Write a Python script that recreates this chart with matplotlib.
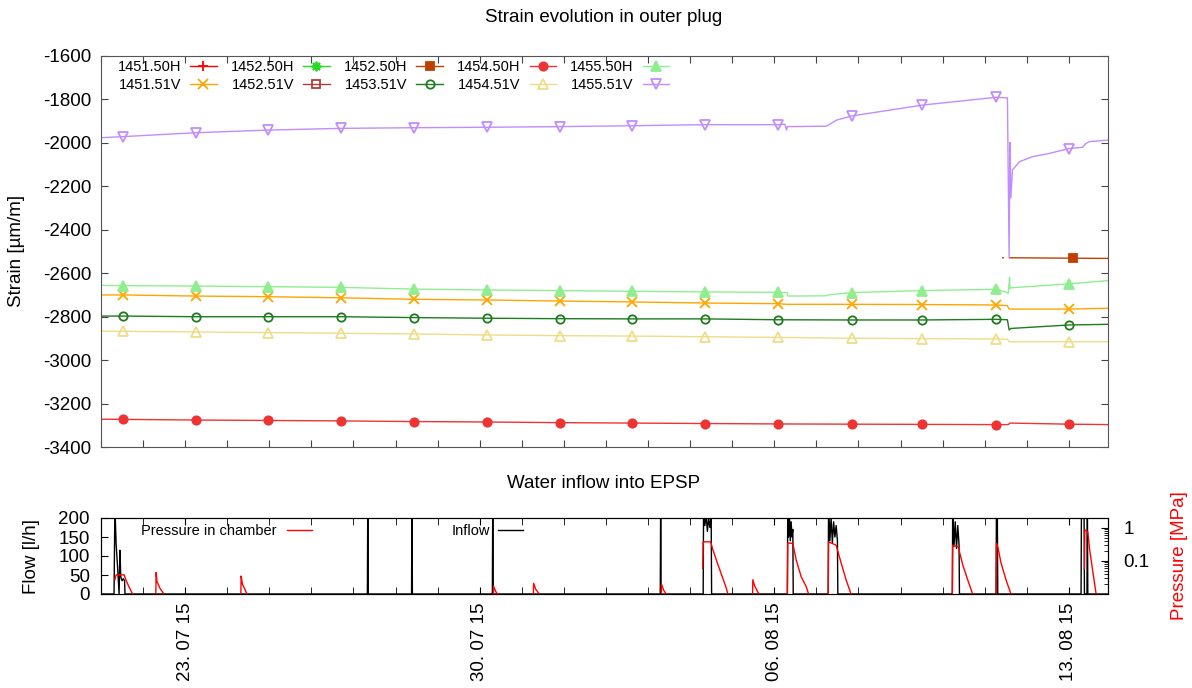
import datetime
import numpy as np
import matplotlib
matplotlib.use('Agg')
import matplotlib.pyplot as plt
import matplotlib.dates as mdates
from matplotlib.ticker import LogLocator, NullFormatter, MultipleLocator, FixedLocator

plt.rcParams['font.family'] = ['Liberation Sans', 'DejaVu Sans']
plt.rcParams['axes.unicode_minus'] = False

# time axis: days after 21.07.2015 00:00
start = datetime.datetime(2015, 7, 21)
x_end = 23.93

# days where gnuplot put the point symbols
mark_days = [0.52, 2.26, 3.97, 5.70, 7.43, 9.17, 10.90, 12.61, 14.35, 16.08, 17.84, 19.52, 21.28, 23.0]

# strain gauges [um/m]
t_1455_51V = [0.0, 0.52, 2.26, 3.97, 5.70, 7.43, 9.17, 10.90, 12.61, 14.35, 16.08, 16.25, 16.29, 16.31,
              17.24, 17.48, 17.84, 19.52, 21.28, 21.54, 21.58, 21.60, 21.62, 21.66, 21.83, 22.14, 22.54,
              23.0, 23.33, 23.40, 23.49, 23.93]
v_1455_51V = [-1978, -1973, -1955, -1943, -1935, -1932, -1930, -1927, -1923, -1918, -1918, -1916, -1943, -1927,
              -1925, -1897, -1878, -1828, -1792, -1795, -2530, -2000, -2255, -2126, -2088, -2065, -2050,
              -2028, -2022, -2005, -1996, -1989]

t_1455_50H = [0.0, 0.52, 2.26, 3.97, 5.70, 7.43, 9.17, 10.90, 12.61, 14.35, 16.08, 16.30, 16.32, 17.22,
              17.30, 17.84, 19.52, 21.28, 21.50, 21.56, 21.59, 21.60, 21.62, 23.0, 23.93]
v_1455_50H = [-2657, -2658, -2660, -2663, -2666, -2674, -2678, -2681, -2684, -2687, -2689, -2690, -2706, -2705,
              -2700, -2690, -2681, -2675, -2688, -2693, -2620, -2672, -2668, -2650, -2635]

t_1451_51V = [0.0, 0.52, 2.26, 3.97, 5.70, 7.43, 9.17, 10.90, 12.61, 14.35, 16.08, 16.30, 17.84, 19.52,
              21.28, 21.54, 21.58, 23.0, 23.93]
v_1451_51V = [-2701, -2701, -2706, -2709, -2714, -2721, -2724, -2729, -2733, -2738, -2741, -2744, -2744, -2745,
              -2747, -2750, -2766, -2766, -2762]

t_1453_51V = [0.0, 0.52, 2.26, 3.97, 5.70, 7.43, 9.17, 10.90, 12.61, 14.35, 16.08, 17.84, 19.52, 21.28,
              21.54, 21.58, 21.62, 23.0, 23.93]
v_1453_51V = [-2798, -2798, -2801, -2801, -2801, -2805, -2808, -2810, -2811, -2811, -2815, -2816, -2816, -2813,
              -2815, -2862, -2855, -2839, -2836]

t_1454_51V = [0.0, 0.52, 2.26, 3.97, 5.70, 7.43, 9.17, 10.90, 12.61, 14.35, 16.08, 17.84, 19.52, 21.28,
              21.54, 21.58, 23.0, 23.93]
v_1454_51V = [-2867, -2868, -2871, -2874, -2877, -2880, -2885, -2888, -2890, -2893, -2896, -2900, -2902, -2903,
              -2905, -2916, -2916, -2916]

t_1454_50H = [0.0, 0.52, 2.26, 3.97, 5.70, 7.43, 9.17, 10.90, 12.61, 14.35, 16.08, 17.84, 19.52, 21.28,
              21.56, 21.60, 23.0, 23.93]
v_1454_50H = [-3272, -3273, -3276, -3278, -3280, -3283, -3285, -3288, -3290, -3292, -3294, -3295, -3296, -3297,
              -3297, -3290, -3295, -3297]

t_1452_50H_b = [21.43, 21.44, np.nan, 21.59, 23.09, 23.93]
v_1452_50H_b = [-2530, -2530, np.nan, -2530, -2532, -2533]

# water inflow [l/h]
flow_t = [0.0, 0.31, 0.33, 0.36, 0.40, 0.43, 0.45, 0.47, 0.50, 0.53, 0.56, 0.57,
          6.33, 6.34, 6.35, 7.38, 7.39, 7.40, 9.30, 9.31, 9.32, 13.29, 13.30, 13.31,
          14.31, 14.32, 14.35, 14.38, 14.41, 14.44, 14.47, 14.50, 14.51,
          16.31, 16.32, 16.34, 16.36, 16.38, 16.40, 16.42, 16.44, 16.45,
          17.28, 17.29, 17.32, 17.35, 17.38, 17.41, 17.44, 17.47, 17.50, 17.51,
          20.23, 20.24, 20.27, 20.30, 20.33, 20.36, 20.39, 20.40,
          21.27, 21.28, 21.30, 21.31,
          23.29, 23.30, 23.33, 23.36, 23.37, 23.43, 23.44, 23.45, 23.93]
flow_v = [0, 0, 230, 130, 60, 0, 115, 45, 35, 40, 35, 0,
          0, 260, 0, 0, 260, 0, 0, 260, 0, 0, 260, 0,
          0, 250, 180, 210, 165, 200, 175, 205, 0,
          0, 240, 150, 210, 140, 190, 150, 170, 0,
          0, 240, 140, 200, 135, 190, 150, 180, 140, 0,
          0, 240, 125, 190, 120, 180, 130, 0,
          0, 260, 220, 0,
          0, 260, 230, 250, 0, 0, 240, 0, 0]

# pressure in chamber [MPa], nan separates the events
press_t = [0.33, 0.36, 0.55, 0.60, 0.67, 0.76, np.nan,
           1.30, 1.31, 1.33, 1.40, 1.52, np.nan,
           3.32, 3.33, 3.36, 3.43, 3.48, np.nan,
           9.32, 9.33, 9.38, 9.44, np.nan,
           10.27, 10.28, 10.33, 10.44, np.nan,
           13.31, 13.32, 13.37, 13.46, np.nan,
           14.30, 14.31, 14.49, 14.53, 14.65, 14.86, 14.90, np.nan,
           15.48, 15.49, 15.53, 15.60, 15.66, np.nan,
           16.31, 16.32, 16.44, 16.52, 16.64, 16.76, 16.82, np.nan,
           17.28, 17.29, 17.47, 17.59, 17.71, 17.83, np.nan,
           20.23, 20.24, 20.37, 20.48, 20.60, 20.72, np.nan,
           21.27, 21.28, 21.31, 21.39, 21.51, 21.63, np.nan,
           23.37, 23.38, 23.45, 23.49, 23.57, 23.65]
press_v = [0.027, 0.038, 0.038, 0.025, 0.016, 0.0095, np.nan,
           0.005, 0.045, 0.024, 0.015, 0.009, np.nan,
           0.005, 0.035, 0.020, 0.013, 0.009, np.nan,
           0.005, 0.017, 0.012, 0.009, np.nan,
           0.005, 0.021, 0.014, 0.009, np.nan,
           0.005, 0.020, 0.013, 0.009, np.nan,
           0.06, 0.38, 0.38, 0.24, 0.085, 0.015, 0.0095, np.nan,
           0.005, 0.027, 0.018, 0.012, 0.009, np.nan,
           0.005, 0.35, 0.34, 0.107, 0.033, 0.0166, 0.0095, np.nan,
           0.005, 0.38, 0.30, 0.085, 0.026, 0.0095, np.nan,
           0.005, 0.30, 0.27, 0.075, 0.026, 0.0095, np.nan,
           0.005, 0.34, 0.27, 0.085, 0.026, 0.0095, np.nan,
           0.06, 0.87, 0.77, 0.24, 0.047, 0.0095]

x0 = mdates.date2num(start)
W, H = 1192, 688

fig = plt.figure(figsize=(W / 100, H / 100), dpi=100)
ax = fig.add_axes([101 / W, 1 - 447 / H, 1007 / W, 391.5 / H])
axb = fig.add_axes([101 / W, 1 - 594 / H, 1007 / W, 76 / H])

# label, times, values, colour, marker, filled, marker days
series = [
    ('1451.50H', [], [], '#ff0000', '+', True, mark_days),
    ('1451.51V', t_1451_51V, v_1451_51V, '#ffa500', 'x', True, mark_days),
    ('1452.50H', [], [], '#22dd22', (8, 2, 0), True, mark_days),
    ('1452.51V', [], [], '#b03c3c', 's', False, mark_days),
    ('1452.50H', t_1452_50H_b, v_1452_50H_b, '#c04000', 's', True, [23.09]),
    ('1453.51V', t_1453_51V, v_1453_51V, '#1e7b1e', 'o', False, mark_days),
    ('1454.50H', t_1454_50H, v_1454_50H, '#ee3333', 'o', True, mark_days),
    ('1454.51V', t_1454_51V, v_1454_51V, '#eedd88', '^', False, mark_days),
    ('1455.50H', t_1455_50H, v_1455_50H, '#90ee90', '^', True, mark_days),
    ('1455.51V', t_1455_51V, v_1455_51V, '#c08cff', 'v', False, mark_days),
]

handles = []
for label, t, v, col, mk, filled, marks in series:
    t = np.asarray(t, dtype=float)
    every = list(np.isin(t, marks)) if len(t) else None
    ms = 7 if mk in ('^', 'v', 'x', '+', (8, 2, 0)) else 6
    ln, = ax.plot(x0 + t, v, color=col, lw=1.0, marker=mk, ms=ms, markevery=every,
                  markerfacecolor=col if filled else 'none', markeredgecolor=col,
                  markeredgewidth=1.3, label=label)
    handles.append(ln)

ax.set_ylim(-3400, -1600)
ax.set_xlim(x0, x0 + x_end)
ax.yaxis.set_major_locator(MultipleLocator(200))
ax.xaxis.set_major_locator(mdates.DayLocator())
ax.xaxis.set_major_formatter(NullFormatter())
ax.tick_params(direction='in', top=True, right=True, length=5, labelsize=13.5, pad=7, colors='#444444',
               labelcolor='black')
for s in ax.spines.values():
    s.set_color('#555555')

fig.legend(handles=handles, loc='upper left', bbox_to_anchor=(118 / W, 1 - 60 / H), ncol=5,
           frameon=False, markerfirst=False, fontsize=10.5, handlelength=1.8, handletextpad=0.6,
           columnspacing=1.0, labelspacing=0.25, borderpad=0, borderaxespad=0, numpoints=1)

# bottom panel: inflow + pressure
fl, = axb.plot(x0 + np.asarray(flow_t), flow_v, color='black', lw=1.0)
axb.set_ylim(0, 200)
axb.set_xlim(x0, x0 + x_end)
axb.yaxis.set_major_locator(MultipleLocator(50))
axb.xaxis.set_major_locator(mdates.WeekdayLocator(byweekday=mdates.TH))
axb.xaxis.set_minor_locator(mdates.DayLocator())
axb.xaxis.set_major_formatter(mdates.DateFormatter('%d. %m %y'))
axb.tick_params(axis='x', which='both', direction='in', top=True, length=5, labelsize=13.5,
                labelrotation=90, pad=6)
axb.tick_params(axis='y', direction='in', length=5, labelsize=13.5, pad=8)

ax2 = axb.twinx()
pl, = ax2.plot(x0 + np.asarray(press_t), press_v, color='red', lw=1.0)
ax2.set_yscale('log')
ax2.set_ylim(0.01, 2)
ax2.yaxis.set_major_locator(FixedLocator([0.1, 1]))
ax2.set_yticklabels(['0.1', '1'])
ax2.yaxis.set_minor_locator(LogLocator(base=10, subs=np.arange(2, 10)))
ax2.yaxis.set_minor_formatter(NullFormatter())
ax2.tick_params(axis='y', which='major', direction='in', length=5, labelsize=13.5, pad=11)
ax2.tick_params(axis='y', which='minor', direction='in', length=3)

fig.legend(handles=[pl], labels=['Pressure in chamber'], loc='center left',
           bbox_to_anchor=(141 / W, 1 - 531 / H), frameon=False, markerfirst=False, fontsize=10.5,
           handlelength=1.7, handletextpad=0.7, borderpad=0, borderaxespad=0)
fig.legend(handles=[fl], labels=['Inflow'], loc='center left',
           bbox_to_anchor=(452 / W, 1 - 531 / H), frameon=False, markerfirst=False, fontsize=10.5,
           handlelength=1.7, handletextpad=0.5, borderpad=0, borderaxespad=0)

# titles and axis labels
fig.text(604 / W, 1 - 18 / H, 'Strain evolution in outer plug', ha='center', va='center', fontsize=13.5)
fig.text(604 / W, 1 - 484 / H, 'Water inflow into EPSP', ha='center', va='center', fontsize=13.5)
fig.text(17 / W, 1 - 251 / H, 'Strain [µm/m]', rotation=90, ha='center', va='center', fontsize=13.5)
fig.text(31 / W, 1 - 556 / H, 'Flow [l/h]', rotation=90, ha='center', va='center', fontsize=13.5)
fig.text(1179 / W, 1 - 556 / H, 'Pressure [MPa]', rotation=90, ha='center', va='center',
         fontsize=13.5, color='red')

fig.savefig('out.png', dpi=100)
